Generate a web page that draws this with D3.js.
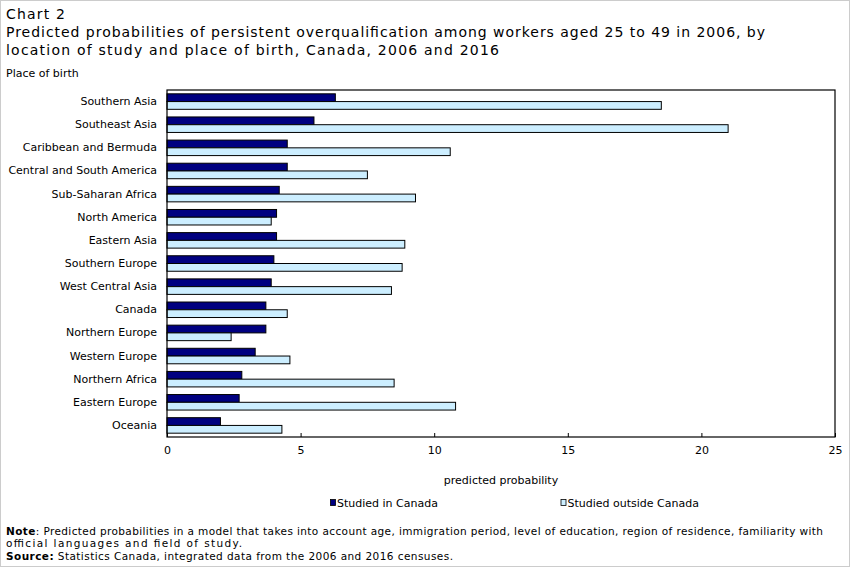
<!DOCTYPE html>
<html>
<head>
<meta charset="utf-8">
<script src="https://cdn.jsdelivr.net/npm/d3@7"></script>
<style>
  html, body { margin: 0; padding: 0; background: #fff; }
  svg { display: block; }
  text { font-family: "DejaVu Sans", Verdana, sans-serif; fill: #000; }
</style>
</head>
<body>
<svg id="chart" width="851" height="568"></svg>
<script>
const categories = [
  "Southern Asia", "Southeast Asia", "Caribbean and Bermuda", "Central and South America",
  "Sub-Saharan Africa", "North America", "Eastern Asia", "Southern Europe",
  "West Central Asia", "Canada", "Northern Europe", "Western Europe",
  "Northern Africa", "Eastern Europe", "Oceania"
];
const studiedInCanada = [6.3, 5.5, 4.5, 4.5, 4.2, 4.1, 4.1, 4.0, 3.9, 3.7, 3.7, 3.3, 2.8, 2.7, 2.0];
const studiedOutsideCanada = [18.5, 21.0, 10.6, 7.5, 9.3, 3.9, 8.9, 8.8, 8.4, 4.5, 2.4, 4.6, 8.5, 10.8, 4.3];
const seriesNames = ["Studied in Canada", "Studied outside Canada"];
const xTicks = [0, 5, 10, 15, 20, 25];

const titleLines = [
  "Chart 2",
  "Predicted probabilities of persistent overqualification among workers aged 25 to 49 in 2006, by",
  "location of study and place of birth, Canada, 2006 and 2016"
];
const yAxisTitle = "Place of birth";
const xAxisTitle = "predicted probability";
const noteText = ": Predicted probabilities in a model that takes into account age, immigration period, level of education, region of residence, familiarity with";
const noteText2 = "official languages and field of study.";
const sourceText = " Statistics Canada, integrated data from the 2006 and 2016 censuses.";

const colors = ["#000080", "#cceeff"];

const svg = d3.select("#chart");

// outer frame
svg.append("rect").attr("x", 0.5).attr("y", 0.5).attr("width", 849).attr("height", 566)
  .attr("fill", "none").attr("stroke", "#cccccc");

// titles
const titleY = [19, 37, 55];
const titleW = [59, 759, 493];
titleLines.forEach((t, i) => {
  svg.append("text").attr("x", 6).attr("y", titleY[i]).style("font-size", "14px")
    .attr("textLength", titleW[i]).attr("lengthAdjust", "spacing").text(t);
});
svg.append("text").attr("x", 6).attr("y", 77).style("font-size", "11px").text(yAxisTitle);

const plotLeft = 167, plotRight = 835, plotTop = 90, plotBottom = 437;

const x = d3.scaleLinear().domain([0, 25]).range([plotLeft, plotRight]);
const y = d3.scaleBand().domain(categories).range([plotTop, plotBottom]).paddingInner(0.33).paddingOuter(0.165);
const ySub = d3.scaleBand().domain([0, 1]).range([0, y.bandwidth()]);

const rows = categories.map((c, i) => ({ cat: c, vals: [studiedInCanada[i], studiedOutsideCanada[i]] }));

const g = svg.append("g");
rows.forEach(r => {
  r.vals.forEach((v, k) => {
    g.append("rect")
      .attr("x", x(0))
      .attr("y", y(r.cat) + ySub(k))
      .attr("width", x(v) - x(0))
      .attr("height", ySub.bandwidth())
      .attr("fill", colors[k])
      .attr("stroke", "#000")
      .attr("stroke-width", 1);
  });
});

// frame of plot
svg.append("rect").attr("x", plotLeft).attr("y", plotTop).attr("width", plotRight - plotLeft).attr("height", plotBottom - plotTop)
  .attr("fill", "none").attr("stroke", "#000").attr("stroke-width", 1.2);

// x axis
const xAxis = d3.axisBottom(x).tickValues(xTicks).tickSize(-4).tickPadding(10);
const xg = svg.append("g").attr("transform", `translate(0,${plotBottom})`).call(xAxis);
xg.select(".domain").remove();
xg.selectAll("line").attr("stroke", "#000");
xg.selectAll("text").style("font-size", "11px").style("font-family", "DejaVu Sans, Verdana, sans-serif").attr("y", 9).attr("dy", "0.71em");

// y labels
const yAxis = d3.axisLeft(y).tickSize(0).tickPadding(10);
const yg = svg.append("g").attr("transform", `translate(${plotLeft},0)`).call(yAxis);
yg.select(".domain").remove();
yg.selectAll("text").style("font-size", "11px").style("font-family", "DejaVu Sans, Verdana, sans-serif");

// x axis title
svg.append("text").attr("x", (plotLeft + plotRight) / 2).attr("y", 484).attr("text-anchor", "middle")
  .style("font-size", "11px").text(xAxisTitle);

// legend
const legendX = [330, 560.5];
seriesNames.forEach((n, k) => {
  svg.append("rect").attr("x", legendX[k] + 0.5).attr("y", 499.5).attr("width", 5).attr("height", 6)
    .attr("fill", colors[k]).attr("stroke", "#000").attr("stroke-width", 0.8);
  svg.append("text").attr("x", legendX[k] + 7).attr("y", 506.5).style("font-size", "11px").text(n);
});

// notes
const n1 = svg.append("text").attr("x", 6).attr("y", 534.5).style("font-size", "10.5px")
  .attr("textLength", 817).attr("lengthAdjust", "spacing");
n1.append("tspan").style("font-weight", "bold").text("Note");
n1.append("tspan").text(noteText);
svg.append("text").attr("x", 6).attr("y", 547).style("font-size", "10.5px")
  .attr("textLength", 236).attr("lengthAdjust", "spacing").text(noteText2);
const n3 = svg.append("text").attr("x", 6).attr("y", 560).style("font-size", "10.5px")
  .attr("textLength", 447).attr("lengthAdjust", "spacing");
n3.append("tspan").style("font-weight", "bold").text("Source:");
n3.append("tspan").text(sourceText);
</script>
</body>
</html>
